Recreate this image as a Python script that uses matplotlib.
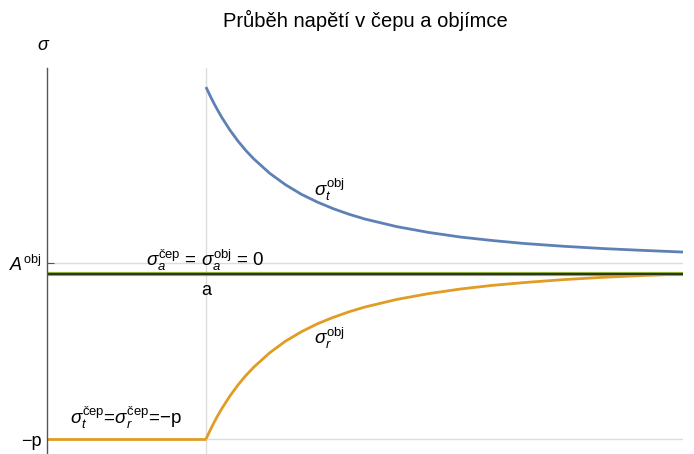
import matplotlib
matplotlib.use('Agg')
import matplotlib.pyplot as plt

plt.rcParams['font.family'] = ['Liberation Sans', 'DejaVu Sans']
plt.rcParams['mathtext.fontset'] = 'custom'
plt.rcParams['mathtext.rm'] = 'Liberation Sans'
plt.rcParams['mathtext.it'] = 'Liberation Sans:italic'

# values (r in units of a, stress in units of p)
a = 1.0
A_obj = 0.067
p = 1.0
r_cep = [0.0, 1.0]
s_cep = [-1.0, -1.0]
r_obj = [1.0, 1.025, 1.05, 1.075, 1.1, 1.15, 1.2, 1.25, 1.3, 1.4, 1.5, 1.6, 1.7, 1.8, 1.9,
         2.0, 2.2, 2.4, 2.6, 2.8, 3.0, 3.25, 3.5, 3.75, 4.0]
s_t_obj = [1.133, 1.082, 1.034, 0.990, 0.948, 0.873, 0.807, 0.749, 0.698, 0.611, 0.541,
           0.483, 0.436, 0.396, 0.362, 0.333, 0.287, 0.252, 0.224, 0.203, 0.185, 0.168,
           0.154, 0.143, 0.133]
s_r_obj = [-1.0, -0.949, -0.901, -0.856, -0.815, -0.740, -0.674, -0.616, -0.565, -0.478,
           -0.407, -0.350, -0.302, -0.263, -0.229, -0.200, -0.154, -0.119, -0.091, -0.069,
           -0.052, -0.034, -0.020, -0.009, 0.0]
r_all = [0.0, 4.0]
s_a = [0.0, 0.0]

W, H = 694, 454
fig = plt.figure(figsize=(W / 100, H / 100), dpi=100)
ax = fig.add_axes([47 / W, 0.0, (683 - 47) / W, (454 - 68) / H])

blue = '#5e81b5'
orange = '#e19c24'
green = '#8fb032'
grid = '#dcdcdc'

ax.set_xlim(0, 4)
ax.set_ylim((274 - 454) / 165, (274 - 68) / 165)

ax.axvline(a, color=grid, lw=1, zorder=0)
ax.axhline(A_obj, color=grid, lw=1, zorder=0)
ax.axhline(-p, color=grid, lw=1, zorder=0)

ax.plot(r_obj, s_t_obj, color=blue, lw=2, solid_capstyle='butt', solid_joinstyle='round')
ax.plot(r_obj, s_r_obj, color=orange, lw=2, solid_capstyle='butt', solid_joinstyle='round')
ax.plot(r_cep, s_cep, color=orange, lw=2, solid_capstyle='butt')
ax.plot(r_all, s_a, color=green, lw=3, solid_capstyle='butt')
ax.plot(r_all, s_a, color='#1a1a1a', lw=1.2, solid_capstyle='butt')

for s in ['top', 'right', 'bottom']:
    ax.spines[s].set_visible(False)
ax.spines['left'].set_color('#555555')
ax.spines['left'].set_linewidth(1)

ax.set_xticks([a])
ax.set_xticklabels([])
ax.set_yticks([A_obj, -p])
ax.set_yticklabels([r'$A^{\mathrm{obj}}$', '−p'])
ax.tick_params(axis='y', direction='in', length=5, color='#555555', labelsize=13, pad=4)
ax.tick_params(axis='x', direction='in', length=0)
ax.text(a, -0.097, 'a', ha='center', va='center', fontsize=13)

ax.text(0.994, 0.085, r'$\sigma_a^{\mathrm{čep}}$ = $\sigma_a^{\mathrm{obj}}$ = 0',
        ha='center', va='center', fontsize=13.5)
ax.text(0.497, -0.873, r'$\sigma_t^{\mathrm{čep}}$=$\sigma_r^{\mathrm{čep}}$=−p',
        ha='center', va='center', fontsize=13.5)
ax.text(1.774, 0.509, r'$\sigma_t^{\mathrm{obj}}$', ha='center', va='center', fontsize=13.5)
ax.text(1.774, -0.388, r'$\sigma_r^{\mathrm{obj}}$', ha='center', va='center', fontsize=13.5)

fig.text(44 / W, 1 - 46 / H, r'$\sigma$', ha='center', va='center', fontsize=13)
fig.text(365 / W, 1 - 20 / H, 'Průběh napětí v čepu a objímce', ha='center', va='center', fontsize=14.5)

fig.savefig('out.png', dpi=100)
